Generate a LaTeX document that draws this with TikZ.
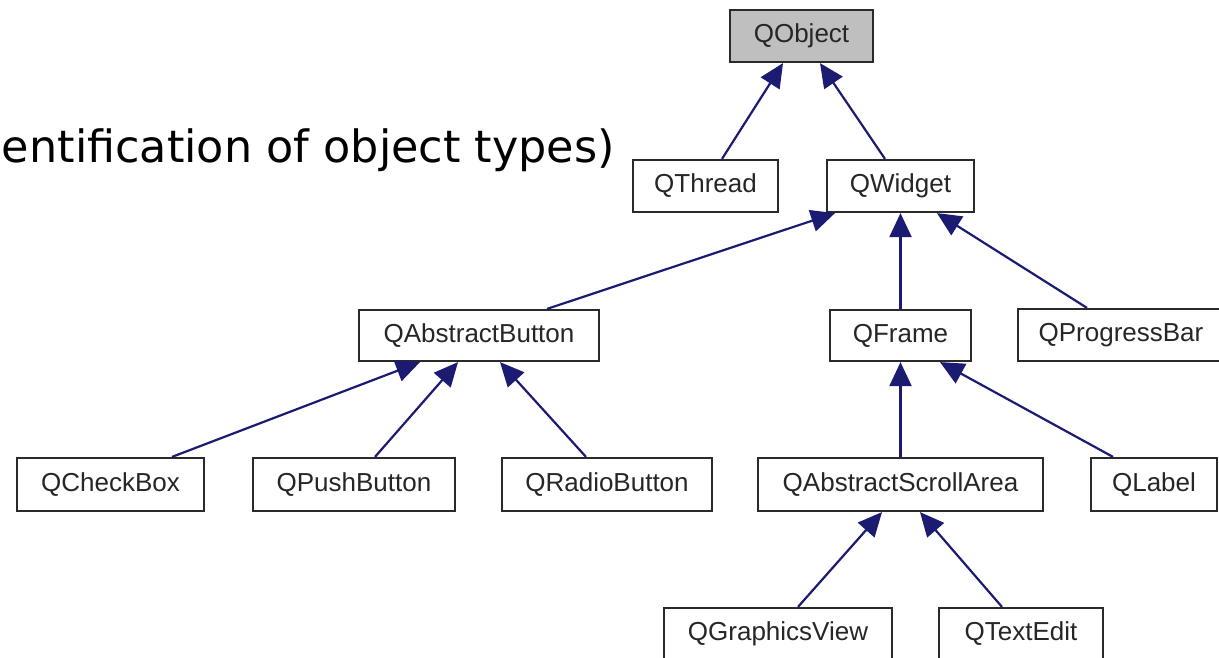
\documentclass[tikz,border=0pt]{standalone}
\usepackage{fontspec}
\setmainfont{Liberation Sans}
\newfontfamily\titlefont{DejaVu Sans}
\usetikzlibrary{arrows.meta}
\definecolor{edgeblue}{HTML}{1B1B72}
\definecolor{boxline}{HTML}{2A2A2A}
\definecolor{rootfill}{HTML}{BFBFBF}
\tikzset{
  cls/.style={draw=boxline, line width=2.2pt, fill=white, minimum height=52pt,
    inner sep=0pt, font=\fontsize{26}{26}\selectfont, text=black!85},
  inh/.style={draw=edgeblue, line width=2.2pt,
    -{Triangle[length=24pt,width=22pt,fill=edgeblue]}},
}
\begin{document}
\begin{tikzpicture}[x=1pt,y=-1pt]
\useasboundingbox (0,0) rectangle (1219,657);
\fill[white] (0,0) rectangle (1219,657);
\node[anchor=base east, font=\titlefont\fontsize{44.5}{44.5}\selectfont, inner sep=0pt] (title) at (615,162) {entification of object types)};
\node[cls, fill=rootfill, minimum width=143pt] (qobject) at (801.5,36) {QObject};
\node[cls, minimum width=145pt] (qthread) at (705.5,186) {QThread};
\node[cls, minimum width=147pt] (qwidget) at (900.5,186) {QWidget};
\node[cls, minimum width=240pt, minimum height=51pt] (qab) at (479,335.5) {QAbstractButton};
\node[cls, minimum width=141pt, minimum height=51pt] (qframe) at (900.5,335.5) {QFrame};
\node[cls, minimum width=206pt, minimum height=52pt] (qprog) at (1121,335) {QProgressBar};
\node[cls, minimum width=187pt, minimum height=53pt] (qcheck) at (110.5,484.5) {QCheckBox};
\node[cls, minimum width=202pt, minimum height=53pt] (qpush) at (354,484.5) {QPushButton};
\node[cls, minimum width=210pt, minimum height=53pt] (qradio) at (607,484.5) {QRadioButton};
\node[cls, minimum width=285pt, minimum height=53pt] (qasa) at (900.5,484.5) {QAbstractScrollArea};
\node[cls, minimum width=126pt, minimum height=53pt] (qlabel) at (1154,484.5) {QLabel};
\node[cls, minimum width=228pt] (qgv) at (778,634) {QGraphicsView};
\node[cls, minimum width=164pt] (qte) at (1021,634) {QTextEdit};
% inheritance edges (child -> parent)
\draw[inh] ([xshift=16.5pt]qthread.north) -- ([xshift=-18.5pt]qobject.south);
\draw[inh] ([xshift=-15.5pt]qwidget.north) -- ([xshift=18.5pt]qobject.south);
\draw[inh] ([xshift=68pt]qab.north) -- ([xshift=-65.5pt]qwidget.south);
\draw[inh] (qframe.north) -- (qwidget.south);
\draw[inh] ([xshift=-34pt]qprog.north) -- ([xshift=36.5pt]qwidget.south);
\draw[inh] ([xshift=61.5pt]qcheck.north) -- ([xshift=-59pt]qab.south);
\draw[inh] ([xshift=21pt]qpush.north) -- ([xshift=-21pt]qab.south);
\draw[inh] ([xshift=-21pt]qradio.north) -- ([xshift=21pt]qab.south);
\draw[inh] (qasa.north) -- (qframe.south);
\draw[inh] ([xshift=-41pt]qlabel.north) -- ([xshift=39.5pt]qframe.south);
\draw[inh] ([xshift=20pt]qgv.north) -- ([xshift=-18.5pt]qasa.south);
\draw[inh] ([xshift=-19pt]qte.north) -- ([xshift=19.5pt]qasa.south);
\end{tikzpicture}
\end{document}
